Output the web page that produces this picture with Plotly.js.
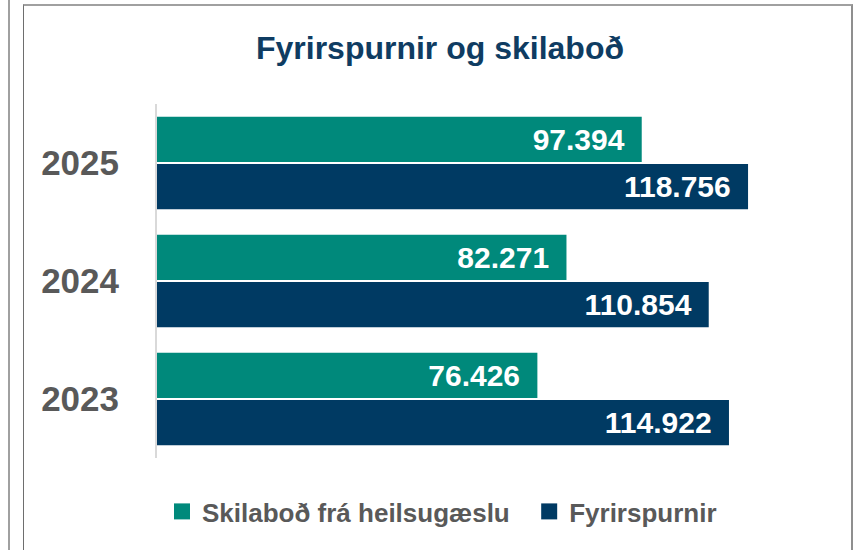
<!DOCTYPE html>
<html>
<head>
<meta charset="utf-8">
<script src="https://cdn.plot.ly/plotly-3.0.1.min.js"></script>
<style>
  html, body { margin:0; padding:0; background:#ffffff; width:861px; height:550px; overflow:hidden; }
  #outerline { position:absolute; left:8px; top:0; width:2px; height:550px; background:#a0a0a0; }
  #frame { position:absolute; left:23px; top:4px; width:830px; height:600px; border-top:2px solid #a0a0a0; border-left:1px solid #6e6e6e; border-right:2px solid #8f8f8f; box-sizing:border-box; }
  #chart { position:absolute; left:0; top:0; width:861px; height:550px; }
</style>
</head>
<body>
<div id="outerline"></div>
<div id="frame"></div>
<div id="chart"></div>
<script>
const years = ['2023', '2024', '2025'];
const skilabod = [76426, 82271, 97394];
const fyrirspurnir = [114922, 110854, 118756];
const seriesNames = ['Skilaboð frá heilsugæslu', 'Fyrirspurnir'];
const titleText = 'Fyrirspurnir og skilaboð';

const teal = '#00897B';
const navy = '#003A63';
const pad = '\u00a0\u2009';
const FONT = 'Liberation Sans, Arial, sans-serif';

const common = {
  type: 'bar',
  orientation: 'h',
  y: years,
  textposition: 'inside',
  insidetextanchor: 'end',
  textangle: 0,
  constraintext: 'none',
  texttemplate: '%{x:,.0f}' + pad,
  insidetextfont: { family: FONT, size: 30, color: '#ffffff', weight: 'bold' },
  hoverinfo: 'skip',
  showlegend: false
};

const traceNavy = Object.assign({}, common, {
  x: fyrirspurnir, name: seriesNames[1], marker: { color: navy }
});
const traceTeal = Object.assign({}, common, {
  x: skilabod, name: seriesNames[0], marker: { color: teal }
});

// legend-only entries (no data drawn), with larger square swatches
const legTeal = { type: 'scatter', mode: 'markers', x: [null], y: [null], name: seriesNames[0] + '\u00a0\u00a0',
  marker: { symbol: 'square', size: 17, color: teal }, showlegend: true, hoverinfo: 'skip' };
const legNavy = { type: 'scatter', mode: 'markers', x: [null], y: [null], name: seriesNames[1],
  marker: { symbol: 'square', size: 17, color: navy }, showlegend: true, hoverinfo: 'skip' };

const layout = {
  width: 861, height: 550,
  paper_bgcolor: 'rgba(0,0,0,0)',
  plot_bgcolor: 'rgba(0,0,0,0)',
  separators: ',.',
  margin: { l: 157, r: 21, t: 104, b: 92, pad: 0 },
  barmode: 'group',
  bargap: 0.2,
  bargroupgap: 0.04,
  font: { family: FONT, color: '#595959' },
  title: {
    text: '<b>' + titleText + '</b>',
    font: { family: FONT, size: 32, color: '#0F3C62' },
    x: 0.511, xref: 'container', xanchor: 'center',
    y: 0.913, yref: 'container', yanchor: 'middle'
  },
  xaxis: {
    range: [0, 137230],
    showgrid: false, zeroline: false, showline: false, showticklabels: false, ticks: ''
  },
  yaxis: {
    type: 'category',
    categoryorder: 'array', categoryarray: years,
    showgrid: false, zeroline: false,
    showline: true, linecolor: '#d9d9d9', linewidth: 2,
    ticks: '',
    ticklabelstandoff: 29,
    tickfont: { family: FONT, size: 35, color: '#595959', weight: 'bold' }
  },
  showlegend: true,
  legend: {
    orientation: 'h',
    xref: 'container', yref: 'container',
    x: 162 / 861, xanchor: 'left',
    y: 0.07, yanchor: 'middle',
    font: { family: FONT, size: 26, color: '#595959', weight: 'bold' },
    itemclick: false, itemdoubleclick: false
  }
};

Plotly.newPlot('chart', [traceNavy, traceTeal, legTeal, legNavy], layout, { displayModeBar: false, staticPlot: true });
</script>
</body>
</html>
